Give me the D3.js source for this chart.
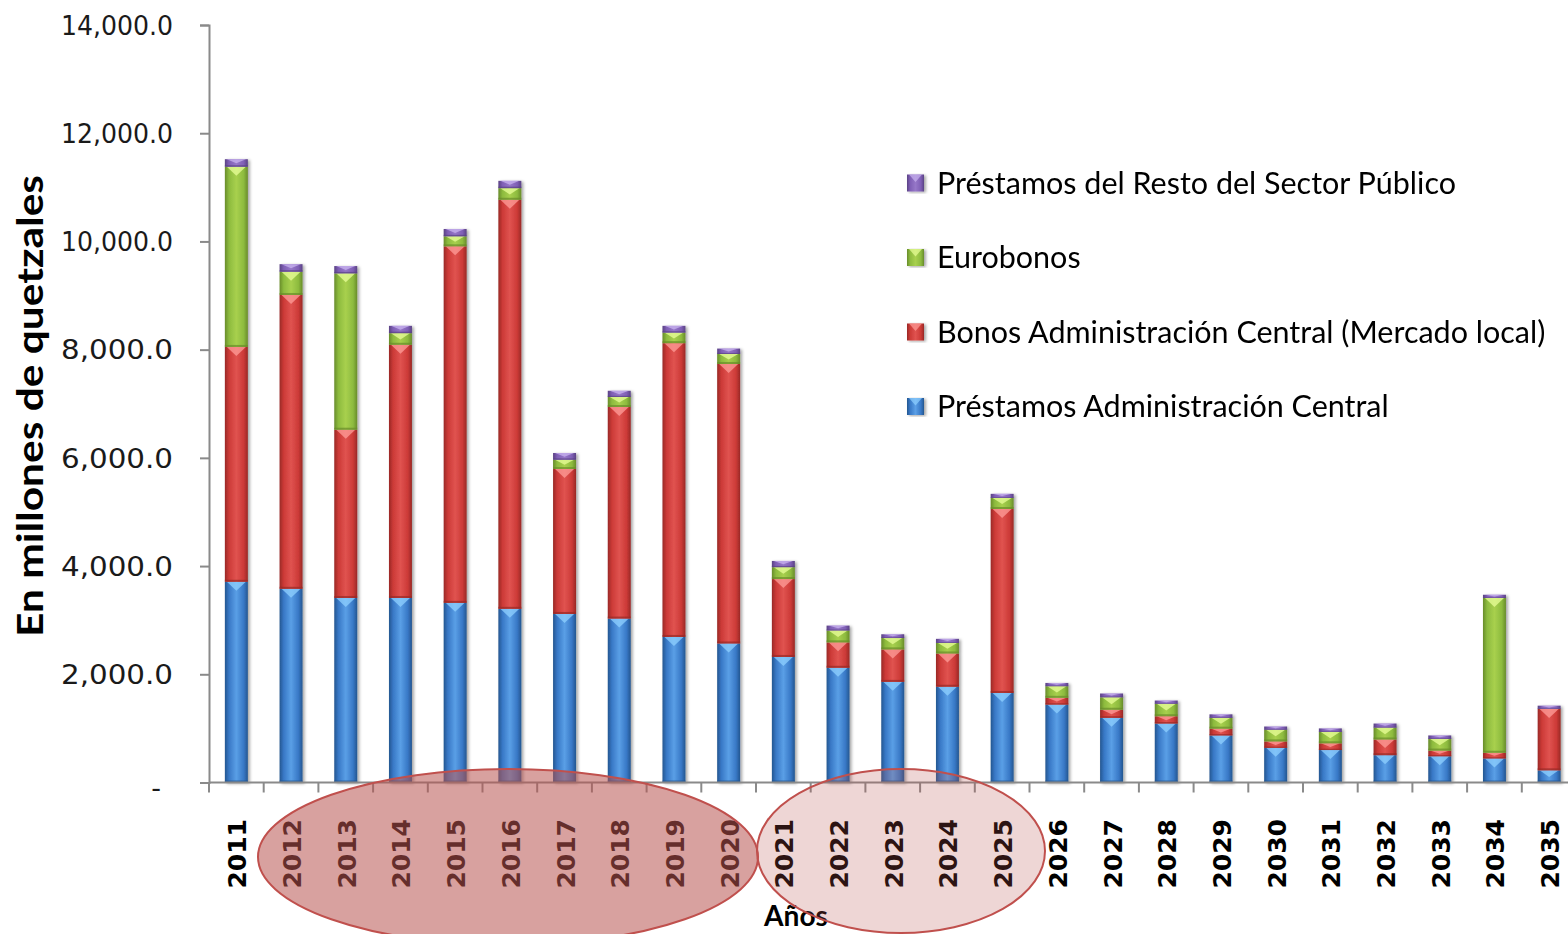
<!DOCTYPE html>
<html>
<head>
<meta charset="utf-8">
<script src="https://cdn.jsdelivr.net/npm/d3@7"></script>
<style>
  html, body { margin: 0; padding: 0; background: #ffffff; }
  svg { display: block; }
</style>
</head>
<body>
<svg id="chart" width="1568" height="934"></svg>
<script>
// Debt service schedule, millions of quetzales, stacked by instrument
const years = [2011, 2012, 2013, 2014, 2015, 2016, 2017, 2018, 2019, 2020,
               2021, 2022, 2023, 2024, 2025, 2026, 2027, 2028, 2029, 2030,
               2031, 2032, 2033, 2034, 2035];

const prestamosAdmCentral = [3710, 3580, 3410, 3410, 3320, 3210, 3115, 3030, 2690, 2570,
                             2320, 2120, 1860, 1770, 1655, 1440, 1195, 1090, 870, 640,
                             600, 505, 485, 445, 225];
const bonosAdmCentral = [4340, 5430, 3110, 4680, 6590, 7560, 2680, 3910, 5430, 5165,
                         1440, 470, 600, 615, 3400, 125, 150, 135, 125, 120,
                         125, 290, 105, 105, 1135];
const eurobonos = [3330, 430, 2890, 215, 185, 215, 170, 185, 195, 185,
                   220, 220, 210, 195, 205, 215, 230, 230, 200, 215,
                   210, 220, 215, 2860, 0];
const prestamosRestoSP = [140, 140, 135, 135, 135, 135, 125, 115, 125, 100,
                          115, 90, 70, 75, 75, 60, 70, 60, 65, 60,
                          65, 75, 65, 60, 60];

const yTicks = [0, 2000, 4000, 6000, 8000, 10000, 12000, 14000];

const seriesNames = ["Préstamos Administración Central",
                     "Bonos Administración Central (Mercado local)",
                     "Eurobonos",
                     "Préstamos del Resto del Sector Público"];
const seriesKeys = ["pac", "bac", "euro", "rsp"];
const seriesValues = [prestamosAdmCentral, bonosAdmCentral, eurobonos, prestamosRestoSP];

// colour ramps: edge, base, highlight
const palette = {
  pac:  { edge: "#245690", base: "#3878c6", light: "#5a9fe6", tip: "#8fd0ff" },
  bac:  { edge: "#992926", base: "#cc3a37", light: "#e05350", tip: "#ff9d99" },
  euro: { edge: "#688c2a", base: "#8dbb3e", light: "#a8d04e", tip: "#e9ff9a" },
  rsp:  { edge: "#5a4284", base: "#7f5fb5", light: "#9677c8", tip: "#c9b4f0" }
};

const table = years.map((yr, i) => {
  const row = { year: yr };
  seriesKeys.forEach((k, j) => row[k] = seriesValues[j][i]);
  return row;
});

const svg = d3.select("#chart");
const defs = svg.append("defs");

seriesKeys.forEach(k => {
  const p = palette[k];
  const g = defs.append("linearGradient").attr("id", "grad-" + k)
    .attr("x1", "0%").attr("x2", "100%").attr("y1", "0%").attr("y2", "0%");
  g.append("stop").attr("offset", "0%").attr("stop-color", p.edge);
  g.append("stop").attr("offset", "18%").attr("stop-color", p.base);
  g.append("stop").attr("offset", "50%").attr("stop-color", p.light);
  g.append("stop").attr("offset", "82%").attr("stop-color", p.base);
  g.append("stop").attr("offset", "100%").attr("stop-color", p.edge);
});

const shadow = defs.append("filter").attr("id", "barShadow")
  .attr("x", "-30%").attr("y", "-5%").attr("width", "160%").attr("height", "115%");
shadow.append("feDropShadow").attr("dx", 2).attr("dy", 1)
  .attr("stdDeviation", 1.6).attr("flood-color", "#000").attr("flood-opacity", 0.35);

const plotLeft = 209, plotBottom = 782.5, plotTop = 25;
const step = 54.7;

const x = d3.scaleBand().domain(years)
  .range([plotLeft, plotLeft + step * years.length]).padding(0);
const y = d3.scaleLinear().domain([0, 14000]).range([plotBottom, plotTop]);

const barW = x.bandwidth() * 0.42;

const stack = d3.stack().keys(seriesKeys);
const stacked = stack(table);

// bars
const barsG = svg.append("g").attr("filter", "url(#barShadow)");
stacked.forEach(layer => {
  const k = layer.key;
  const p = palette[k];
  const lg = barsG.append("g");
  layer.forEach(d => {
    const v = d[1] - d[0];
    if (v <= 0) return;
    const cx = x(d.data.year) + x.bandwidth() / 2;
    const x0 = cx - barW / 2;
    const yTop = y(d[1]);
    const yBot = y(d[0]);
    const h = yBot - yTop;
    lg.append("rect")
      .attr("x", x0).attr("y", yTop)
      .attr("width", barW).attr("height", h)
      .attr("fill", `url(#grad-${k})`);
    // bevel highlight at the top of each segment
    const hb = Math.min(9, h * 0.55);
    lg.append("path")
      .attr("d", `M${x0 + 2},${yTop} L${x0 + barW - 2},${yTop} L${cx},${yTop + hb} Z`)
      .attr("fill", p.tip).attr("opacity", 0.75);
    // darker seam at the bottom of each segment
    lg.append("rect")
      .attr("x", x0).attr("y", yBot - Math.min(2, h * 0.2))
      .attr("width", barW).attr("height", Math.min(2, h * 0.2))
      .attr("fill", p.edge).attr("opacity", 0.7);
  });
});

// y axis
const yAxis = d3.axisLeft(y).tickValues(yTicks)
  .tickFormat(d => d === 0 ? "-" : d3.format(",.1f")(d))
  .tickSize(9).tickPadding(27);
const yG = svg.append("g").attr("transform", `translate(${plotLeft},0)`).call(yAxis);
yG.select(".domain").attr("stroke", "#8a8a8a").attr("stroke-width", 2);
yG.selectAll(".tick line").attr("stroke", "#8a8a8a").attr("stroke-width", 2);
yG.selectAll(".tick text")
  .attr("font-family", "DejaVu Sans, Verdana, sans-serif")
  .attr("font-size", 27).attr("fill", "#1a1a1a")
  .attr("dx", d => d === 0 ? -12 : 0)
  .attr("dy", d => d === 0 ? "0.5em" : "0.34em")
  .each(function(d) {
    if (d !== 0) d3.select(this).attr("textLength", 112).attr("lengthAdjust", "spacingAndGlyphs");
  });

// x axis line and category ticks between bars
const xG = svg.append("g");
xG.append("line")
  .attr("x1", plotLeft).attr("x2", x.range()[1])
  .attr("y1", plotBottom).attr("y2", plotBottom)
  .attr("stroke", "#8a8a8a").attr("stroke-width", 2);
xG.selectAll("line.tick").data(years.concat([null])).enter().append("line")
  .attr("class", "tick")
  .attr("x1", d => d === null ? x.range()[1] : x(d))
  .attr("x2", d => d === null ? x.range()[1] : x(d))
  .attr("y1", plotBottom).attr("y2", plotBottom + 10)
  .attr("stroke", "#8a8a8a").attr("stroke-width", 2);

xG.selectAll("text.year").data(years).enter().append("text")
  .attr("class", "year")
  .attr("transform", d => `translate(${x(d) + x.bandwidth() / 2 + 1},819) rotate(-90)`)
  .attr("text-anchor", "end")
  .attr("dy", "0.36em")
  .attr("font-family", "DejaVu Sans, Verdana, sans-serif")
  .attr("font-weight", "bold")
  .attr("font-size", 25)
  .attr("fill", "#000")
  .text(d => d);

// axis titles
svg.append("text")
  .attr("transform", "translate(43,406) rotate(-90)")
  .attr("text-anchor", "middle")
  .attr("font-family", "Lato, sans-serif")
  .attr("font-weight", "bold")
  .attr("font-size", 37)
  .attr("textLength", 462).attr("lengthAdjust", "spacingAndGlyphs")
  .attr("fill", "#000")
  .text("En millones de quetzales");

svg.append("text")
  .attr("x", 796).attr("y", 926)
  .attr("text-anchor", "middle")
  .attr("font-family", "Lato, sans-serif")
  .attr("font-weight", "bold")
  .attr("font-size", 28)
  .attr("textLength", 64).attr("lengthAdjust", "spacingAndGlyphs")
  .attr("fill", "#000")
  .text("Años");

// legend, listed top-down from the top of the stack
const legendOrder = [3, 2, 1, 0];
const legendG = svg.append("g");
legendOrder.forEach((si, i) => {
  const k = seriesKeys[si];
  const p = palette[k];
  const cy = 183 + i * 74.5;
  const lg = legendG.append("g").attr("transform", `translate(907,${cy})`);
  lg.append("rect").attr("x", 0).attr("y", -8.5).attr("width", 17).attr("height", 17)
    .attr("fill", `url(#grad-${k})`).attr("filter", "url(#barShadow)");
  lg.append("path").attr("d", "M2,-8.5 L15,-8.5 L8.5,-1 Z")
    .attr("fill", p.tip).attr("opacity", 0.7);
  lg.append("text")
    .attr("x", 30).attr("y", 0).attr("dy", "0.36em")
    .attr("font-family", "Lato, sans-serif")
    .attr("font-size", 30.5)
    .attr("fill", "#000")
    .text(seriesNames[si]);
});

// highlighted periods
const marks = [
  { cx: 508, cy: 857, rx: 250, ry: 88, op: 0.55 },
  { cx: 901, cy: 851, rx: 144, ry: 82, op: 0.24 }
];
svg.append("g").selectAll("ellipse").data(marks).enter().append("ellipse")
  .attr("cx", d => d.cx).attr("cy", d => d.cy)
  .attr("rx", d => d.rx).attr("ry", d => d.ry)
  .attr("fill", "#b85450").attr("fill-opacity", d => d.op)
  .attr("stroke", "#c0504d").attr("stroke-width", 2);
</script>
</body>
</html>
